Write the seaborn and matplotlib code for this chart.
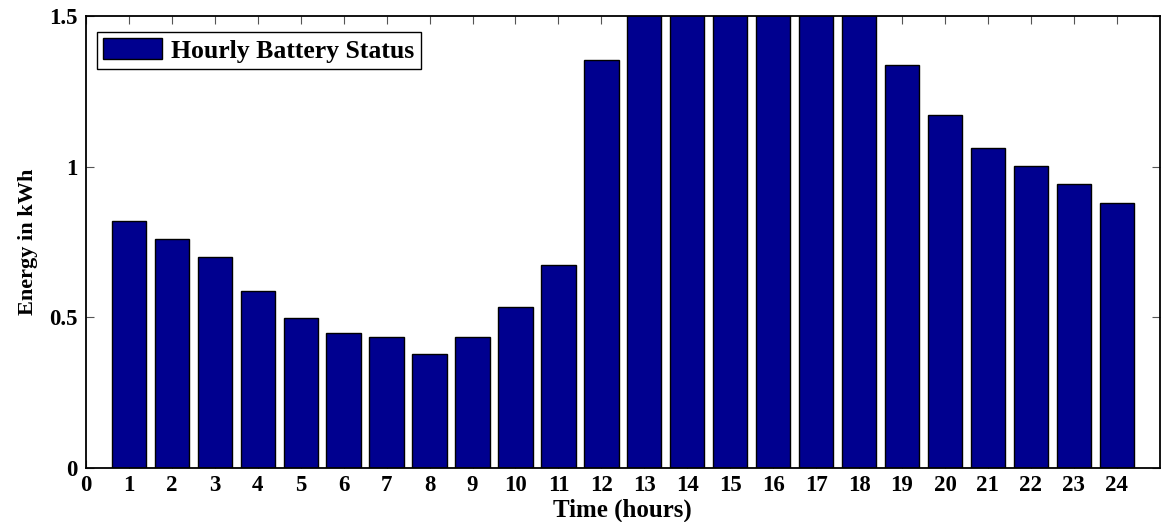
import matplotlib
matplotlib.use('Agg')
import matplotlib.pyplot as plt
import seaborn as sb
import pandas as pd

hours = list(range(1, 25))
energy = [0.82, 0.76, 0.70, 0.589, 0.499, 0.448, 0.434, 0.377, 0.434, 0.533,
          0.674, 1.353, 1.6, 1.6, 1.6, 1.6, 1.6, 1.6, 1.337, 1.170, 1.061,
          1.003, 0.941, 0.88]
xticks = list(range(0, 25))
yticks = [0, 0.5, 1, 1.5]
ytick_labels = ['0', '0.5', '1', '1.5']

df = pd.DataFrame({'Hour': hours, 'Energy': energy})

sb.set_style('ticks')
plt.rcParams['font.family'] = ['Liberation Serif', 'DejaVu Serif']
plt.rcParams['font.weight'] = 'bold'
plt.rcParams['text.color'] = 'black'
plt.rcParams['axes.labelcolor'] = 'black'

fig = plt.figure(figsize=(11.62, 5.22), dpi=100)
ax = fig.add_axes([0.074, 0.1034, 0.924, 0.8659])

sb.barplot(data=df, x='Hour', y='Energy', native_scale=True, width=0.8,
           color='#00008F', saturation=1, edgecolor='black', linewidth=1,
           label='Hourly Battery Status', ax=ax)

ax.set_xlim(0, 25)
ax.set_ylim(0, 1.5)
ax.set_xticks(xticks)
ax.set_xticklabels([str(t) for t in xticks], fontsize=16.5, fontweight='bold')
ax.set_yticks(yticks)
ax.set_yticklabels(ytick_labels, fontsize=16.5, fontweight='bold')
ax.tick_params(direction='in', length=5.8, width=0.8, color='#555555',
               labelcolor='black', top=True, right=True)
ax.tick_params(axis='x', pad=5)
ax.tick_params(axis='y', pad=6)
for sp in ax.spines.values():
    sp.set_visible(True)
    sp.set_linewidth(1.3)
    sp.set_color('black')

ax.set_xlabel('Time (hours)', fontsize=18, fontweight='bold', labelpad=2)
ax.set_ylabel('Energy in kWh', fontsize=16, fontweight='bold', labelpad=8)

leg = ax.legend(loc='upper left', bbox_to_anchor=(0.0102, 0.9646),
                borderaxespad=0, fancybox=False, framealpha=1,
                edgecolor='black', prop={'size': 18.5, 'weight': 'bold'},
                handlelength=2.3, handleheight=0.85, handletextpad=0.35,
                borderpad=0.25)
leg.get_frame().set_linewidth(1.0)

fig.savefig('out.png', dpi=100)
